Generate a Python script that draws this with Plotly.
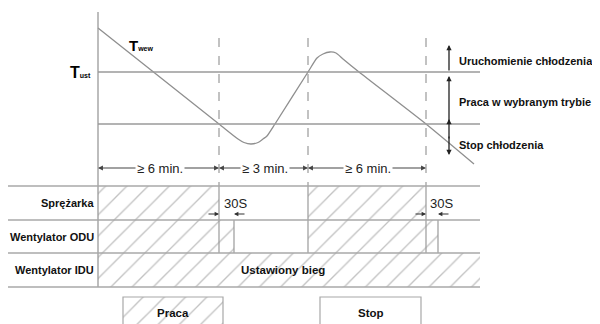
import plotly.graph_objects as go

# ---------------- data (diagram units) ----------------
curve_t = [98, 219, 238, 244, 251, 258, 263, 267, 275, 308, 317, 323, 330, 336, 343, 359, 426, 474]
curve_temp = [28, 124, 139, 142.5, 144, 142.5, 139, 136, 124, 72, 58, 54, 52, 53, 59, 72, 124, 164]

level_names = ["T_ust", "T_stop"]
level_y = [72, 124]

phase_edges = [98, 219, 308, 426]
phase_labels = ["≥ 6 min.", "≥ 3 min.", "≥ 6 min."]

row_names = ["Sprężarka", "Wentylator ODU", "Wentylator IDU"]
row_edges = [186, 220, 253, 287]
compressor_on = [(98, 219), (308, 426)]
odu_on = [(98, 234), (308, 438)]
idu_on = [(98, 480)]
idu_label = "Ustawiony bieg"
delay_label = "30S"

zone_labels = ["Uruchomienie chłodzenia", "Praca w wybranym trybie", "Stop chłodzenia"]
zone_label_y = [61, 102, 145]

legend_labels = ["Praca", "Stop"]
legend_boxes = [(123, 223), (320, 421)]

# ---------------- styles ----------------
FONT = "Liberation Sans, Arial, sans-serif"
GRID = "#9a9a9a"
TABLE = "#a8a8a8"
x_axis0 = phase_edges[0]
x_right = 480
PAGE_OFFSET = 8  # default page margin around the plot div

fig = go.Figure()


def hatch(x0, x1, y0, y1):
    fig.add_trace(go.Scatter(
        x=[x0, x1, x1, x0, x0], y=[y0, y0, y1, y1, y0],
        mode="lines", fill="toself",
        fillpattern=dict(shape="/", size=15, solidity=0.09, fgcolor="#858585", bgcolor="white"),
        line=dict(width=0), hoverinfo="skip", showlegend=False))


# hatched activity bars
for spans, r in ((compressor_on, 0), (odu_on, 1), (idu_on, 2)):
    for a, b in spans:
        hatch(a, b, row_edges[r], row_edges[r + 1])

# legend boxes
hatch(legend_boxes[0][0], legend_boxes[0][1], 297, 340)

# temperature curve
fig.add_trace(go.Scatter(x=curve_t, y=curve_temp, mode="lines",
                         line=dict(color="#8f8f8f", width=1.3, shape="spline", smoothing=0.6),
                         hoverinfo="skip", showlegend=False))

shapes = []
# main vertical axis
shapes.append(dict(type="line", x0=x_axis0, x1=x_axis0, y0=12, y1=row_edges[-1],
                   line=dict(color=GRID, width=1.3)))
# temperature level lines
for yv in level_y:
    shapes.append(dict(type="line", x0=x_axis0, x1=x_right, y0=yv, y1=yv,
                       line=dict(color=GRID, width=1.3)))
# phase boundaries (dashed above, solid in the table)
for xe in phase_edges[1:]:
    shapes.append(dict(type="line", x0=xe, x1=xe, y0=38, y1=row_edges[0],
                       line=dict(color=GRID, width=1.2, dash="dash")))
    shapes.append(dict(type="line", x0=xe, x1=xe, y0=row_edges[0], y1=row_edges[2],
                       line=dict(color=GRID, width=1.2)))
# fan run-on ends
for a, b in odu_on:
    shapes.append(dict(type="line", x0=b, x1=b, y0=row_edges[1], y1=row_edges[2],
                       line=dict(color=GRID, width=1.2)))
# table rows
for yv in row_edges:
    shapes.append(dict(type="line", x0=8, x1=x_right, y0=yv, y1=yv,
                       line=dict(color=TABLE, width=1.5)))
# legend box outlines
for a, b in legend_boxes:
    shapes.append(dict(type="rect", x0=a, x1=b, y0=297, y1=340,
                       line=dict(color=TABLE, width=1.2)))

ann = []
# T labels
ann.append(dict(x=80, y=72, text="<b>T<span style='font-size:7px'>ust</span></b>",
                showarrow=False, font=dict(size=16, color="black", family=FONT)))
ann.append(dict(x=141, y=45, text="<b>T<span style='font-size:7px'>wew</span></b>",
                showarrow=False, font=dict(size=15, color="black", family=FONT)))

# right-side zone arrows
arrow_x = 449
for (tip, tail) in ((45, 72), (76, 124), (119, 140)):
    ann.append(dict(x=arrow_x, y=tip, ax=arrow_x, ay=tail, axref="x", ayref="y",
                    xref="x", yref="y", text="", showarrow=True, arrowhead=2,
                    arrowsize=0.8, arrowwidth=1.3, arrowcolor="#222"))
ann.append(dict(x=arrow_x, y=155, ax=arrow_x, ay=135, axref="x", ayref="y",
                text="", showarrow=True, arrowhead=2, arrowsize=0.8, arrowwidth=1.3,
                arrowcolor="#222"))
for lbl, yv in zip(zone_labels, zone_label_y):
    ann.append(dict(x=457, y=yv, text="<b>" + lbl + "</b>", showarrow=False, xanchor="left",
                    font=dict(size=11, color="#111", family=FONT)))

# duration dimension arrows
dim_y = 168
for i, lbl in enumerate(phase_labels):
    a, b = phase_edges[i], phase_edges[i + 1]
    mid = (a + b) / 2
    for end in (a, b):
        ann.append(dict(x=end, y=dim_y, ax=mid, ay=dim_y, axref="x", ayref="y",
                        text="", showarrow=True, arrowhead=2, arrowsize=0.9,
                        arrowwidth=1.1, arrowcolor="#444"))
for i, lbl in enumerate(phase_labels):
    a, b = phase_edges[i], phase_edges[i + 1]
    ann.append(dict(x=(a + b) / 2 + 1, y=dim_y, text=lbl, showarrow=False, bgcolor="white",
                    borderpad=1, font=dict(size=13, color="#222", family=FONT)))

# 30 s run-on markers
for (ca, cb), (oa, ob) in zip(compressor_on, odu_on):
    ann.append(dict(x=cb, y=214, ax=cb - 12, ay=214, axref="x", ayref="y", text="",
                    showarrow=True, arrowhead=2, arrowsize=0.8, arrowwidth=1.1, arrowcolor="#333"))
    ann.append(dict(x=ob, y=214, ax=ob + 12, ay=214, axref="x", ayref="y", text="",
                    showarrow=True, arrowhead=2, arrowsize=0.8, arrowwidth=1.1, arrowcolor="#333"))
    ann.append(dict(x=(cb + ob) / 2 + 9, y=203, text=delay_label, showarrow=False,
                    font=dict(size=13, color="#222", family=FONT)))

# row labels
for i, name in enumerate(row_names):
    ann.append(dict(x=96, y=(row_edges[i] + row_edges[i + 1]) / 2, text="<b>" + name + "</b>",
                    showarrow=False, xanchor="right", font=dict(size=11, color="#111", family=FONT)))
ann.append(dict(x=283, y=270, text="<b>" + idu_label + "</b>", showarrow=False,
                font=dict(size=11.5, color="#111", family=FONT)))

# legend labels
for lbl, (a, b) in zip(legend_labels, legend_boxes):
    ann.append(dict(x=(a + b) / 2, y=313, text="<b>" + lbl + "</b>", showarrow=False,
                    font=dict(size=11.5, color="#111", family=FONT)))

for a in ann:
    a.setdefault("xref", "x")
    a.setdefault("yref", "y")

fig.update_layout(
    width=600 - PAGE_OFFSET, height=324 - PAGE_OFFSET,
    margin=dict(l=0, r=0, t=0, b=0),
    paper_bgcolor="white", plot_bgcolor="white",
    xaxis=dict(range=[PAGE_OFFSET, 600], visible=False, fixedrange=True),
    yaxis=dict(range=[324, PAGE_OFFSET], visible=False, fixedrange=True),
    shapes=shapes, annotations=ann, showlegend=False,
)

fig.write_html("out.html")
